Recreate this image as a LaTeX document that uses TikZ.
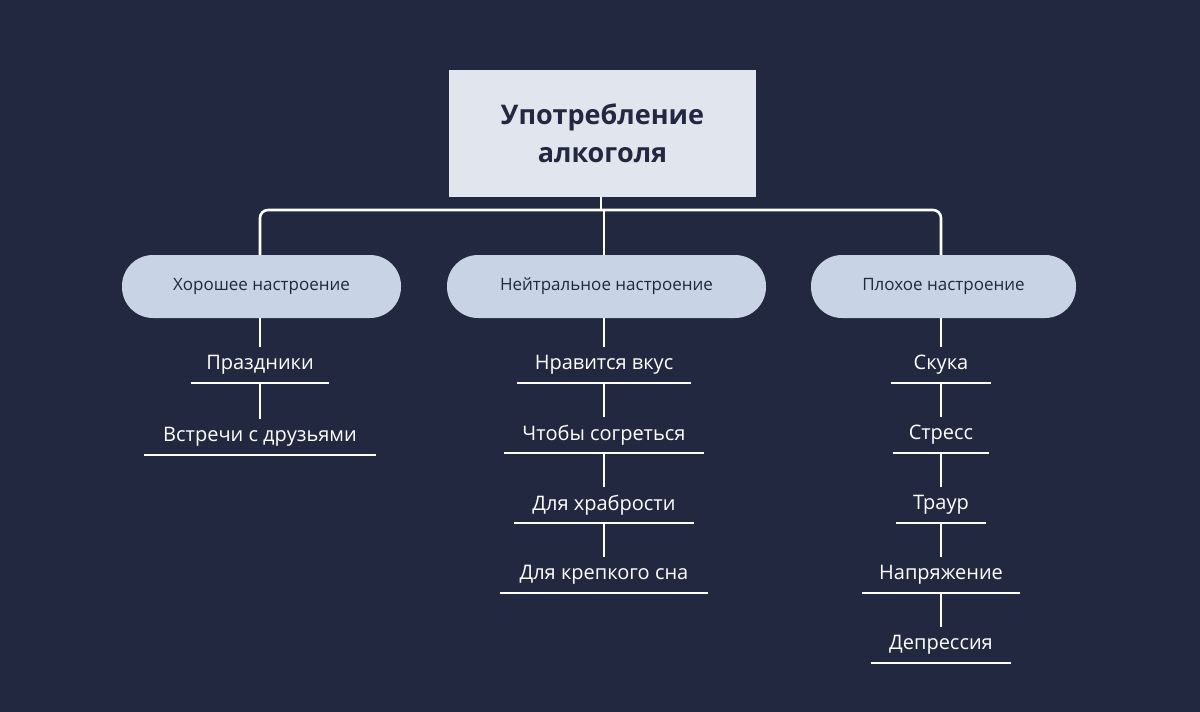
\documentclass[tikz,border=0pt]{standalone}
\usepackage{fontspec}
\setmainfont{Open Sans}
\begin{document}
\begin{tikzpicture}[x=1pt,y=-1pt,
  ln/.style={draw=white,line width=2.6pt},
  pill/.style={fill=pillc,rounded corners=31pt,minimum height=63pt,text=dark,font=\fontsize{17}{20}\selectfont,inner sep=0pt},
  item/.style={minimum height=36pt,inner sep=0pt,text=white,font=\fontsize{20}{24}\selectfont},
]
\definecolor{bg}{HTML}{222840}
\definecolor{dark}{HTML}{222840}
\definecolor{pillc}{HTML}{C8D3E5}
\definecolor{topc}{HTML}{E0E5EE}
\fill[bg] (0,0) rectangle (1200,712);
\node[fill=topc,minimum width=307pt,minimum height=127pt,text=dark,font=\bfseries\fontsize{27}{38}\selectfont,align=center] (top) at (602.5,133.5) {Употребление\\алкоголя};
\node[pill,minimum width=279pt] (p1) at (261.5,286.5) {Хорошее настроение};
\node[pill,minimum width=319pt] (p2) at (606.5,286.5) {Нейтральное настроение};
\node[pill,minimum width=265pt] (p3) at (943.5,286.5) {Плохое настроение};
\coordinate (j) at (601,210);
\draw[ln,rounded corners=8pt] (p1.north -| 260,0) -- (260,210) -- (941,210) -- (p3.north -| 941,0);
\draw[ln] (top.south -| j) -- (j);
\draw[ln] (604,210) -- (p2.north -| 604,0);
% items
\foreach \n/\x/\y/\w/\t in {
 a1/260/365/138/Праздники, a2/260/437/232/Встречи с друзьями,
 b1/604/365/173/Нравится вкус, b2/604/435/200/Чтобы согреться, b3/604/505/179/Для храбрости, b4/604/575/208/Для крепкого сна,
 c1/941/365/99/Скука, c2/941/435/95/Стресс, c3/941/505/89/Траур, c4/941/575/157/Напряжение, c5/941/645/140/Депрессия}
{\node[item,minimum width=\w pt] (\n) at (\x,\y) {\t};
 \draw[white,line width=2pt] (\n.south west) -- (\n.south east);}
\draw[ln] (p1.south -| a1.north) -- (a1.north);
\draw[ln] (a1.south) -- (a2.north);
\draw[ln] (p2.south -| b1.north) -- (b1.north);
\draw[ln] (b1.south) -- (b2.north);
\draw[ln] (b2.south) -- (b3.north);
\draw[ln] (b3.south) -- (b4.north);
\draw[ln] (p3.south -| c1.north) -- (c1.north);
\draw[ln] (c1.south) -- (c2.north);
\draw[ln] (c2.south) -- (c3.north);
\draw[ln] (c3.south) -- (c4.north);
\draw[ln] (c4.south) -- (c5.north);
\end{tikzpicture}
\end{document}
